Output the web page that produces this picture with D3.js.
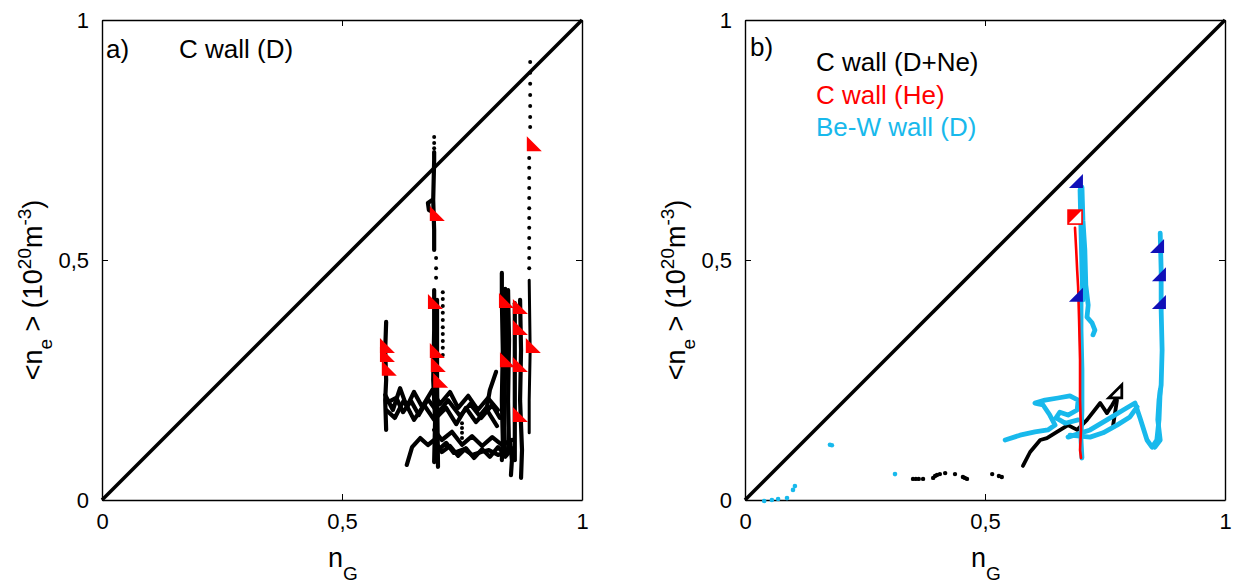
<!DOCTYPE html>
<html><head><meta charset="utf-8">
<script src="https://cdn.jsdelivr.net/npm/d3@7"></script>
<style>body{margin:0;background:#fff;} text{font-family:"Liberation Sans",Arial,sans-serif;}</style>
</head><body><svg id="c" width="1238" height="587"></svg>
<script>
// ---------- axis data ----------
const tickValues = [0, 0.5, 1];
const tickLabels = ["0", "0,5", "1"];
const panelLabels = ["a)", "b)"];
const legendA = ["C wall (D)"];
const legendB = ["C wall (D+Ne)", "C wall (He)", "Be-W wall (D)"];

// ---------- panel a : C wall (D) trajectories [nG, <ne>] ----------
const aTrack1 = [[0.592,0.371],[0.590,0.3125],[0.592,0.25],[0.590,0.208],[0.592,0.146]];
const aTrack2 = [[0.590,0.219],[0.606,0.1875],[0.621,0.233],[0.635,0.194],[0.650,0.225],[0.667,0.194],[0.688,0.229],[0.704,0.2],[0.725,0.225],[0.742,0.192],[0.763,0.217],[0.783,0.1875],[0.804,0.2125],[0.825,0.1875]];
const aTrack3 = [[0.592,0.1875],[0.610,0.171],[0.629,0.208],[0.650,0.167],[0.671,0.198],[0.692,0.167],[0.717,0.192],[0.738,0.158],[0.758,0.192],[0.779,0.1625],[0.802,0.1875],[0.823,0.154]];
const aTrack3b = [[0.596,0.204],[0.613,0.213],[0.627,0.183],[0.644,0.206],[0.660,0.177],[0.679,0.210],[0.700,0.181],[0.721,0.208],[0.746,0.175],[0.767,0.200],[0.790,0.171],[0.813,0.198],[0.829,0.171]];
const aTrack4 = [[0.692,0.725],[0.692,0.708],[0.690,0.625],[0.692,0.5625],[0.692,0.521]];
const aHook   = [[0.688,0.625],[0.679,0.619],[0.681,0.604],[0.690,0.600]];
const aTrack5 = [[0.692,0.4375],[0.692,0.354],[0.690,0.25],[0.694,0.167],[0.692,0.079]];
const aTrack5b = [[0.698,0.417],[0.698,0.25],[0.700,0.069]];
const aTrack6 = [[0.635,0.073],[0.646,0.110],[0.663,0.129],[0.679,0.1146],[0.692,0.125],[0.708,0.100],[0.725,0.1125],[0.742,0.092],[0.758,0.108],[0.775,0.0875],[0.792,0.106],[0.808,0.090],[0.825,0.110],[0.842,0.092],[0.854,0.108]];
const aTrack7 = [[0.692,0.146],[0.708,0.125],[0.729,0.142],[0.750,0.115],[0.771,0.133],[0.792,0.1125],[0.813,0.131],[0.833,0.115],[0.854,0.125]];
const aTrack7b = [[0.700,0.104],[0.717,0.119],[0.733,0.098],[0.754,0.106],[0.771,0.094],[0.790,0.100],[0.806,0.104],[0.825,0.094],[0.846,0.100]];
const aTrack8 = [[0.833,0.473],[0.833,0.417],[0.835,0.3125],[0.833,0.208],[0.835,0.125],[0.833,0.083]];
const aTrack8b = [[0.840,0.440],[0.840,0.300],[0.838,0.150],[0.840,0.090]];
const aTrack9 = [[0.846,0.4375],[0.848,0.333],[0.846,0.208],[0.848,0.104]];
const aTrack10 = [[0.860,0.410],[0.860,0.25],[0.860,0.083]];
const aTrack11 = [[0.871,0.417],[0.873,0.3125],[0.871,0.208],[0.875,0.104],[0.873,0.046]];
const aTrack12 = [[0.890,0.458],[0.892,0.3125],[0.890,0.208],[0.890,0.140]];
const aTrack13 = [[0.850,0.125],[0.854,0.083],[0.852,0.052]];
const aDiag   = [[0.821,0.267],[0.808,0.229],[0.802,0.194],[0.788,0.177]];
const aDots = [
  [0.692,0.756],[0.692,0.744],[0.692,0.733],
  [0.696,0.504],[0.696,0.483],[0.696,0.463],
  [0.710,0.433],[0.710,0.419],[0.710,0.404],[0.710,0.390],[0.710,0.375],[0.710,0.360],[0.710,0.346],[0.710,0.331],[0.710,0.317],[0.710,0.302],
  [0.750,0.160],[0.750,0.150],[0.750,0.140],[0.750,0.129],
  [0.892,0.9125],[0.892,0.890],[0.892,0.867],[0.892,0.844],[0.892,0.821],[0.892,0.798],[0.892,0.777],
  [0.890,0.7125],[0.890,0.692],[0.890,0.671],[0.890,0.650],[0.890,0.629],[0.890,0.608],[0.890,0.5875],[0.890,0.567],[0.890,0.546],[0.890,0.525],[0.890,0.504],[0.890,0.483]
];
const aFlags = [[0.885,0.758],[0.683,0.6125],[0.679,0.429],[0.827,0.431],[0.856,0.419],[0.856,0.375],[0.883,0.3375],
  [0.579,0.3375],[0.579,0.319],[0.583,0.290],[0.683,0.327],[0.685,0.298],[0.690,0.265],[0.829,0.308],[0.856,0.298],[0.856,0.194]];

// ---------- panel b ----------
// C wall (D+Ne)
const bBlackLine = [[0.579,0.071],[0.594,0.100],[0.615,0.125],[0.629,0.129],[0.650,0.142],[0.673,0.156],[0.692,0.146],[0.7125,0.167],[0.740,0.202],[0.754,0.181],[0.765,0.198],[0.775,0.215]];
const bBlackTail = [[0.775,0.208],[0.767,0.156]];
const bBlackDots = [[0.350,0.044],[0.356,0.044],[0.362,0.044],[0.371,0.044],[0.392,0.046],[0.396,0.050],[0.400,0.052],[0.406,0.054],[0.417,0.056],[0.4375,0.054],[0.454,0.048],[0.458,0.046],[0.4625,0.044],[0.515,0.054],[0.529,0.050],[0.535,0.048]];
const bBlackFlag = [[0.785,0.240]];
// C wall (He)
const bRedLine = [[0.6875,0.567],[0.690,0.521],[0.692,0.479],[0.694,0.444],[0.696,0.375],[0.698,0.292],[0.698,0.208],[0.700,0.146],[0.698,0.104],[0.700,0.0875]];
const bRedFlag = [[0.673,0.604]];
// Be-W wall (D)
const bCyan1 = [[0.702,0.652],[0.704,0.583],[0.708,0.521],[0.710,0.448],[0.715,0.406],[0.7125,0.381],[0.723,0.369],[0.729,0.354],[0.725,0.344]];
const bCyan1b = [[0.698,0.646],[0.700,0.5625],[0.702,0.479],[0.704,0.417]];
const bCyan2 = [[0.700,0.431],[0.700,0.354],[0.702,0.271],[0.702,0.1875],[0.700,0.125],[0.702,0.0875]];
const bCyan3 = [[0.542,0.125],[0.573,0.135],[0.604,0.142],[0.631,0.146],[0.646,0.156],[0.635,0.177],[0.621,0.198],[0.604,0.202],[0.625,0.208],[0.652,0.2125],[0.677,0.217],[0.694,0.208],[0.692,0.1875],[0.673,0.177],[0.656,0.183],[0.648,0.171],[0.667,0.160],[0.694,0.167]];
const bCyan4 = [[0.673,0.131],[0.719,0.146],[0.754,0.167],[0.788,0.1875],[0.8125,0.202],[0.823,0.171],[0.8375,0.125],[0.848,0.110],[0.858,0.125],[0.8625,0.167],[0.865,0.229]];
const bCyan5 = [[0.865,0.556],[0.867,0.479],[0.867,0.396],[0.869,0.3125],[0.867,0.240],[0.8625,0.208],[0.860,0.167],[0.865,0.125],[0.854,0.110]];
const bCyan6 = [[0.677,0.135],[0.719,0.131],[0.746,0.140],[0.775,0.156],[0.802,0.173],[0.817,0.194]];
const bCyanDots = [[0.040,-0.002],[0.056,0.0],[0.069,0.002],[0.0875,0.004],[0.100,0.021],[0.104,0.029],[0.177,0.115],[0.181,0.114],[0.3125,0.054]];
const bBlueFlags = [[0.704,0.679],[0.704,0.442],[0.873,0.544],[0.877,0.485],[0.877,0.427]];

// ---------- drawing ----------
const svg = d3.select("#c");
const cyan = "#18b9ec", red = "#ff0000", blue = "#1010b8";

function panel(left) {
  const sx = d3.scaleLinear().domain([0,1]).range([left, left+480]);
  const sy = d3.scaleLinear().domain([0,1]).range([500, 20]);
  const g = svg.append("g");
  g.append("line").attr("x1",sx(0)).attr("y1",sy(0)).attr("x2",sx(1)).attr("y2",sy(1))
    .attr("stroke","#000").attr("stroke-width",3.6);
  const fmt = (d,i)=>tickLabels[i];
  const axes = [
    [d3.axisBottom(sx).tickFormat(fmt).tickPadding(13), `translate(0,${sy(0)})`],
    [d3.axisLeft(sy).tickFormat(fmt).tickPadding(13), `translate(${sx(0)},0)`],
    [d3.axisTop(sx).tickFormat(""), `translate(0,${sy(1)})`],
    [d3.axisRight(sy).tickFormat(""), `translate(${sx(1)},0)`]
  ];
  axes.forEach(([ax,tr])=>{
    const a = g.append("g").attr("transform",tr)
      .call(ax.tickValues(tickValues).tickSizeInner(-6).tickSizeOuter(0));
    a.selectAll("path.domain").attr("stroke","#000").attr("stroke-width",1.4);
    a.selectAll(".tick line").attr("stroke","#000").attr("stroke-width",1);
    a.selectAll("text").attr("font-size",22).attr("fill","#000")
      .attr("font-family","'Liberation Sans',Arial,sans-serif");
  });
  // x title
  const xt = g.append("text").attr("x",sx(0.5)-14).attr("y",567).attr("font-size",27);
  xt.append("tspan").text("n");
  xt.append("tspan").attr("dy",13).attr("font-size",19).text("G");
  // y title
  const yt = g.append("text").attr("transform",`translate(${left-60},290) rotate(-90)`)
    .attr("text-anchor","middle").attr("font-size",27);
  yt.append("tspan").text("<n");
  yt.append("tspan").attr("dy",10).attr("font-size",19).text("e");
  yt.append("tspan").attr("dy",-10).text(" > (10");
  yt.append("tspan").attr("dy",-11).attr("font-size",19).text("20");
  yt.append("tspan").attr("dy",11).text("m");
  yt.append("tspan").attr("dy",-11).attr("font-size",19).text("-3");
  yt.append("tspan").attr("dy",11).text(")");
  return {g, sx, sy};
}

function track(p, data, color, w) {
  const line = d3.line().x(d=>p.sx(d[0])).y(d=>p.sy(d[1]));
  p.g.append("path").attr("d", line(data)).attr("fill","none").attr("stroke",color)
    .attr("stroke-width",w).attr("stroke-linejoin","round").attr("stroke-linecap","round");
}
function dots(p, data, color, r) {
  p.g.selectAll(null).data(data).enter().append("circle")
    .attr("cx",d=>p.sx(d[0])).attr("cy",d=>p.sy(d[1])).attr("r",r).attr("fill",color);
}

// Panel a
const A = panel(102);
[aTrack1,aTrack2,aTrack3,aTrack3b,aTrack4,aHook,aTrack5,aTrack5b,aTrack6,aTrack7,aTrack7b,aTrack8,aTrack8b,aTrack9,aTrack10,aTrack11,aTrack13,aDiag]
  .forEach(t=>track(A,t,"#000",4.2));
track(A, aTrack12, "#000", 3);
dots(A, aDots, "#000", 2);
const fs = 15;
A.g.selectAll(null).data(aFlags).enter().append("path")
  .attr("d", d=>{const x=A.sx(d[0]), y=A.sy(d[1]); return `M${x},${y}L${x},${y+fs}L${x+fs},${y+fs}Z`;})
  .attr("fill", red);
A.g.append("text").attr("x",106).attr("y",58).attr("font-size",26).text(panelLabels[0]);
A.g.append("text").attr("x",179).attr("y",58).attr("font-size",26).text(legendA[0]);

// Panel b
const B = panel(745);
dots(B, bBlackDots, "#000", 2.2);
track(B, bBlackLine, "#000", 3.8);
track(B, bBlackTail, "#000", 3.8);
[bCyan3,bCyan4,bCyan6,bCyan5,bCyan2,bCyan1b,bCyan1].forEach(t=>track(B,t,cyan,4.8));
dots(B, bCyanDots, cyan, 2.3);
track(B, bRedLine, red, 2.6);
// red flag with square
B.g.selectAll(null).data(bRedFlag).enter().append("g").each(function(d){
  const x=B.sx(d[0]), y=B.sy(d[1]), s=14;
  d3.select(this).append("rect").attr("x",x).attr("y",y).attr("width",s).attr("height",s)
    .attr("fill","#fff").attr("stroke",red).attr("stroke-width",1.6);
  d3.select(this).append("path").attr("d",`M${x},${y}L${x},${y+s}L${x+s},${y}Z`).attr("fill",red);
});
B.g.selectAll(null).data(bBlueFlags).enter().append("path")
  .attr("d", d=>{const x=B.sx(d[0]), y=B.sy(d[1]); return `M${x},${y}L${x},${y+14}L${x-14},${y+14}Z`;})
  .attr("fill", blue);
B.g.selectAll(null).data(bBlackFlag).enter().append("path")
  .attr("d", d=>{const x=B.sx(d[0]), y=B.sy(d[1]); return `M${x},${y}L${x},${y+13}L${x-13},${y+13}Z`;})
  .attr("fill", "#fff").attr("stroke","#000").attr("stroke-width",2.8).attr("stroke-linejoin","miter");
B.g.append("text").attr("x",750).attr("y",56).attr("font-size",26).text(panelLabels[1]);
const legColors = ["#000", red, cyan];
legendB.forEach((t,i)=>B.g.append("text").attr("x",816).attr("y",71+i*32.5).attr("font-size",26)
  .attr("fill",legColors[i]).text(t));
</script>
</body></html>
